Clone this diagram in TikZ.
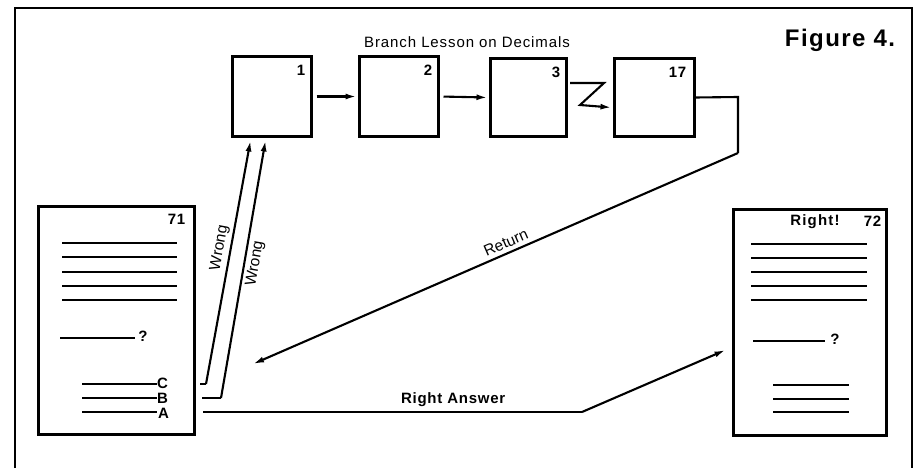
\documentclass[tikz,border=0pt]{standalone}
\usepackage{fontspec}
\setmainfont{Liberation Sans}
\usetikzlibrary{arrows.meta,calc}
\newcommand{\ls}[1]{\addfontfeature{LetterSpace=#1}}
\begin{document}
\begin{tikzpicture}[x=1pt,y=-1pt,
  frame/.style={line width=1.4pt},
  frbox/.style={draw,line width=3pt,inner sep=0pt},
  txline/.style={line width=2.2pt},
  conn/.style={line width=2.1pt},
  arr/.style={conn,-{Latex[length=11pt,width=6pt]}},
  numlbl/.style={font=\fontsize{15}{17}\selectfont\bfseries\ls{5},anchor=north east,inner sep=0pt},
  lbl/.style={font=\fontsize{15.5}{17}\selectfont,inner sep=2pt}
]
\useasboundingbox (0,0) rectangle (917,468);
% outer frame (open at bottom)
\draw[frame] (15,468) -- (15,8) -- (912,8) -- (912,468);
% title
\node[font=\fontsize{15}{17}\selectfont\ls{6}] (title) at (467,42) {Branch Lesson on Decimals};
\node[font=\fontsize{24}{27}\selectfont\bfseries\ls{6}] (fig) at (840,40) {Figure 4.};
% lesson frames
\node[frbox,minimum width=79pt,minimum height=79pt] (b1) at (271.5,96.5) {};
\node[frbox,minimum width=79pt,minimum height=79pt] (b2) at (398.5,96.5) {};
\node[frbox,minimum width=76pt,minimum height=77pt] (b3) at (528,97.5) {};
\node[frbox,minimum width=80pt,minimum height=77pt] (b17) at (654,97.5) {};
\node[numlbl] (n1) at ($(b1.north east)+(-7,9)$) {1};
\node[numlbl] (n2) at ($(b2.north east)+(-7,9)$) {2};
\node[numlbl] (n3) at ($(b3.north east)+(-7,9)$) {3};
\node[numlbl] (n17) at ($(b17.north east)+(-9,9)$) {17};
% question frames
\node[frbox,minimum width=156pt,minimum height=228pt] (b71) at (116,320) {};
\node[numlbl] (n71) at ($(b71.north east)+(-10,9)$) {71};
\node[frbox,minimum width=153pt,minimum height=226pt] (b72) at (809.5,322) {};
\node[numlbl] (n72) at ($(b72.north east)+(-6,8)$) {72};
\node[font=\fontsize{15}{17}\selectfont\bfseries\ls{8},inner sep=0pt] (right) at (815,222) {Right!};
% text lines in frame 71
\foreach \yy in {243,257,272,286,300} \draw[txline] (62,\yy) -- (177,\yy);
\draw[txline] (60,338) -- (135,338);
\node[font=\fontsize{15}{15}\selectfont\bfseries,inner sep=0pt] (q71) at (143,336) {?};
\draw[txline] (82,384) -- (157,384);
\draw[txline] (82,398) -- (157,398);
\draw[txline] (82,412) -- (157,412);
\node[font=\fontsize{15}{15}\selectfont\bfseries,inner sep=0pt,anchor=west] (C) at (157,383) {C};
\node[font=\fontsize{15}{15}\selectfont\bfseries,inner sep=0pt,anchor=west] (B) at (157,398) {B};
\node[font=\fontsize{15}{15}\selectfont\bfseries,inner sep=0pt,anchor=west] (A) at (158,413.5) {A};
% text lines in frame 72
\foreach \yy in {244,258,272,286,300} \draw[txline] (751,\yy) -- (867,\yy);
\draw[txline] (753,341) -- (825,341);
\node[font=\fontsize{15}{15}\selectfont\bfseries,inner sep=0pt] (q72) at (835,339) {?};
\draw[txline] (773,385) -- (849,385);
\draw[txline] (773,399) -- (849,399);
\draw[txline] (773,412) -- (849,412);
% lesson chain
\draw[arr,shorten <=4pt,shorten >=1pt] (b1.east) -- (b2.west);
\draw[arr,shorten <=4pt,shorten >=1pt] (b2.east) -- (b3.west);
\coordinate (z0) at (570,83);
\coordinate (z1) at (604,83);
\coordinate (z2) at (580,105);
\draw[arr,line join=miter] (z0) -- (z1) -- (z2) -- ($(b17.west)+(-1,10)$);
% return
\coordinate (r1) at (738,97);
\coordinate (r2) at (738,153);
\coordinate (r3) at (253,364);
\draw[conn,line join=miter] (b17.east) -- (r1) -- (r2);
\draw[arr] (r2) -- node[lbl,pos=0.47,above,sloped,inner sep=4pt] {Return} (r3);
% wrong answers
\coordinate (c0) at (200,384);
\coordinate (c1) at (206,384);
\draw[conn] (c0) -- (c1);
\draw[arr] (c1) -- node[lbl,pos=0.55,above,sloped,inner sep=3pt] {Wrong} ($(b1.south west)+(20,3)$);
\coordinate (d0) at (202,398);
\coordinate (d1) at (221,398);
\draw[conn] (d0) -- (d1);
\draw[arr] (d1) -- node[lbl,pos=0.53,below,sloped,inner sep=3pt] {Wrong} ($(b1.south west)+(35,3)$);
% right answer
\coordinate (a0) at (203,412);
\coordinate (a1) at (582,412);
\draw[conn] (a0) -- node[font=\fontsize{15}{17}\selectfont\bfseries\ls{5},pos=0.66,above,inner sep=4pt] {Right Answer} (a1);
\draw[arr] (a1) -- ($(b72.west)+(-6,28)$);
\end{tikzpicture}
\end{document}
